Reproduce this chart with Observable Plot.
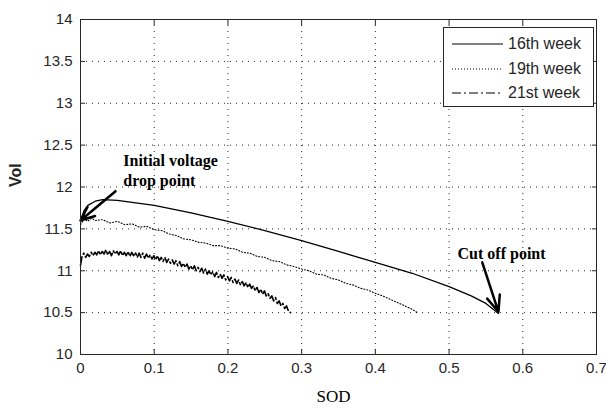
<!DOCTYPE html>
<html><head><meta charset="utf-8">
<script src="https://cdn.jsdelivr.net/npm/d3@7"></script>
<script src="https://cdn.jsdelivr.net/npm/@observablehq/plot@0.6"></script>
<style>
body{margin:0;background:#fff;}
#wrap{position:relative;width:606px;height:408px;}
#legend{position:absolute;left:443px;top:27px;width:149px;height:78px;border:1px solid #262626;background:#fff;font-family:"Liberation Sans",Arial,sans-serif;font-size:16px;color:#262626;z-index:2;}
.row{position:absolute;left:0;height:20px;display:flex;align-items:center;white-space:nowrap;}
.row svg{margin-left:8px;display:block;}
.row span{margin-left:5px;}
</style></head><body>
<div id="wrap"><div id="legend"></div></div>
<script>
// ---- data ----
const xTicks = [0, 0.1, 0.2, 0.3, 0.4, 0.5, 0.6, 0.7];
const yTicks = [10, 10.5, 11, 11.5, 12, 12.5, 13, 13.5, 14];
const seriesNames = ["16th week", "19th week", "21st week"];

const sod16 = [0, 0.005, 0.01, 0.02, 0.03, 0.05, 0.075, 0.1, 0.15, 0.2, 0.25, 0.3, 0.35, 0.4, 0.45, 0.5, 0.53, 0.55, 0.567];
const vol16 = [11.60, 11.72, 11.78, 11.83, 11.85, 11.84, 11.81, 11.78, 11.69, 11.59, 11.48, 11.36, 11.23, 11.10, 10.97, 10.81, 10.70, 10.61, 10.49];

const sod19 = [0, 0.005, 0.01, 0.015, 0.02, 0.03, 0.04, 0.05, 0.06, 0.07, 0.08, 0.09, 0.1, 0.11, 0.12, 0.13, 0.14, 0.15, 0.16, 0.17, 0.18, 0.19, 0.2, 0.21, 0.22, 0.23, 0.24, 0.25, 0.26, 0.27, 0.28, 0.29, 0.3, 0.31, 0.32, 0.33, 0.34, 0.35, 0.36, 0.37, 0.38, 0.39, 0.4, 0.41, 0.42, 0.43, 0.44, 0.45, 0.457];
const vol19 = [11.55, 11.62, 11.59, 11.63, 11.60, 11.61, 11.57, 11.59, 11.55, 11.56, 11.52, 11.53, 11.49, 11.48, 11.44, 11.42, 11.38, 11.37, 11.34, 11.33, 11.30, 11.30, 11.27, 11.26, 11.22, 11.21, 11.17, 11.16, 11.12, 11.11, 11.07, 11.05, 11.02, 11.00, 10.96, 10.95, 10.91, 10.89, 10.85, 10.83, 10.79, 10.77, 10.73, 10.70, 10.66, 10.62, 10.58, 10.54, 10.50];

const sod21 = [0, 0.002, 0.0045, 0.007, 0.0095, 0.012, 0.0145, 0.017, 0.0195, 0.022, 0.0245, 0.027, 0.0295, 0.032, 0.0345, 0.037, 0.0395, 0.042, 0.0445, 0.047, 0.0495, 0.052, 0.0545, 0.057, 0.0595, 0.062, 0.0645, 0.067, 0.0695, 0.072, 0.0745, 0.077, 0.0795, 0.082, 0.0845, 0.087, 0.0895, 0.092, 0.0945, 0.097, 0.0995, 0.102, 0.1045, 0.107, 0.1095, 0.112, 0.1145, 0.117, 0.1195, 0.122, 0.1245, 0.127, 0.1295, 0.132, 0.1345, 0.137, 0.1395, 0.142, 0.1445, 0.147, 0.1495, 0.152, 0.1545, 0.157, 0.1595, 0.162, 0.1645, 0.167, 0.1695, 0.172, 0.1745, 0.177, 0.1795, 0.182, 0.1845, 0.187, 0.1895, 0.192, 0.1945, 0.197, 0.1995, 0.202, 0.2045, 0.207, 0.2095, 0.212, 0.2145, 0.217, 0.2195, 0.222, 0.2245, 0.227, 0.2295, 0.232, 0.2345, 0.237, 0.2395, 0.242, 0.2445, 0.247, 0.2495, 0.252, 0.2545, 0.257, 0.2595, 0.262, 0.2645, 0.267, 0.2695, 0.272, 0.2745, 0.277, 0.2795, 0.282, 0.285];
const vol21 = [11.06, 11.17, 11.21, 11.16, 11.20, 11.17, 11.22, 11.18, 11.22, 11.19, 11.24, 11.19, 11.23, 11.20, 11.25, 11.19, 11.23, 11.18, 11.24, 11.20, 11.23, 11.19, 11.24, 11.18, 11.22, 11.18, 11.23, 11.17, 11.22, 11.18, 11.22, 11.16, 11.21, 11.16, 11.21, 11.15, 11.20, 11.15, 11.19, 11.14, 11.18, 11.13, 11.18, 11.12, 11.16, 11.11, 11.16, 11.10, 11.14, 11.09, 11.13, 11.08, 11.12, 11.06, 11.11, 11.05, 11.09, 11.04, 11.08, 11.02, 11.06, 11.01, 11.06, 11.00, 11.04, 10.99, 11.03, 10.97, 11.02, 10.96, 11.00, 10.95, 10.99, 10.93, 10.98, 10.92, 10.96, 10.91, 10.95, 10.89, 10.93, 10.88, 10.92, 10.86, 10.90, 10.85, 10.89, 10.83, 10.87, 10.82, 10.86, 10.80, 10.84, 10.79, 10.82, 10.76, 10.80, 10.74, 10.78, 10.72, 10.76, 10.70, 10.73, 10.67, 10.70, 10.64, 10.68, 10.61, 10.64, 10.58, 10.61, 10.55, 10.58, 10.52, 10.50];

const noteLabels = ["Initial voltage\ndrop point", "Cut off point"];
const noteSod = [0.058, 0.5115];
const noteVol = [12.42, 11.31];
const arrowFromSod = [0.0475, 0.545];
const arrowFromVol = [11.95, 11.10];
const arrowToSod = [0.0, 0.567];
const arrowToVol = [11.60, 10.51];

// ---- build tables ----
const d16 = sod16.map((s, i) => ({sod: s, vol: vol16[i]}));
const d19 = sod19.map((s, i) => ({sod: s, vol: vol19[i]}));
const d21 = sod21.map((s, i) => ({sod: s, vol: vol21[i]}));
const notes = noteLabels.map((t, i) => ({label: t, sod: noteSod[i], vol: noteVol[i]}));
const arrows = arrowFromSod.map((s, i) => ({x1: s, y1: arrowFromVol[i], x2: arrowToSod[i], y2: arrowToVol[i]}));

const dashes = [null, "1,2", "9,3,2,3"];
const ink = "#262626";
const fmt = d => String(d);

const plot = Plot.plot({
  width: 606, height: 408,
  marginLeft: 80, marginRight: 10, marginTop: 19, marginBottom: 54,
  style: {fontFamily: '"Liberation Sans", Arial, sans-serif', fontSize: "15px", color: ink, background: "#fff", overflow: "visible"},
  x: {domain: [0, 0.7]},
  y: {domain: [10, 14]},
  marks: [
    Plot.gridX(xTicks, {stroke: ink, strokeOpacity: 1, strokeWidth: 1, strokeDasharray: "1,5"}),
    Plot.gridY(yTicks, {stroke: ink, strokeOpacity: 1, strokeWidth: 1, strokeDasharray: "1,5"}),
    Plot.line(d16, {x: "sod", y: "vol", stroke: "#000", strokeWidth: 1.3}),
    Plot.line(d19, {x: "sod", y: "vol", stroke: "#000", strokeWidth: 1.1, strokeDasharray: dashes[1]}),
    Plot.line(d21, {x: "sod", y: "vol", stroke: "#000", strokeWidth: 1.6, strokeDasharray: dashes[2]}),
    Plot.arrow(arrows, {x1: "x1", y1: "y1", x2: "x2", y2: "y2", stroke: "#000", strokeWidth: 2.5, headLength: 12, headAngle: 45}),
    Plot.text(notes, {x: "sod", y: "vol", text: "label", textAnchor: "start", lineAnchor: "top", lineHeight: 1.25, fontFamily: '"Liberation Serif", "Times New Roman", serif', fontWeight: "bold", fontSize: 16, fill: "#000"}),
    Plot.frame({stroke: ink}),
    Plot.axisX(xTicks, {anchor: "bottom", tickSize: -5, tickPadding: 13, tickFormat: fmt, label: null, stroke: ink}),
    Plot.axisX(xTicks, {anchor: "top", tickSize: -5, tickFormat: () => "", label: null, stroke: ink}),
    Plot.axisY(yTicks, {anchor: "left", tickSize: -5, tickPadding: 13, tickFormat: fmt, label: null, stroke: ink}),
    Plot.axisY(yTicks, {anchor: "right", tickSize: -5, tickFormat: () => "", label: null, stroke: ink}),
    Plot.text(["Vol"], {text: d => d, frameAnchor: "left", dx: -65, rotate: -90, fontWeight: "bold", fontSize: 16, fill: ink}),
    Plot.text(["SOD"], {text: d => d, frameAnchor: "bottom", dx: -5, dy: 47, fontFamily: '"Liberation Serif", "Times New Roman", serif', fontSize: 17, fill: "#000"})
  ]
});
document.getElementById("wrap").appendChild(plot);

// ---- legend ----
const legend = document.getElementById("legend");
const rowCenters = [16, 41, 65];
seriesNames.forEach((name, i) => {
  const row = document.createElement("div");
  row.className = "row";
  row.style.top = (rowCenters[i] - 10) + "px";
  const dash = dashes[i] ? `stroke-dasharray="${dashes[i]}"` : "";
  row.innerHTML = `<svg width="51" height="6"><line x1="0" y1="3" x2="51" y2="3" stroke="#000" stroke-width="1.2" ${dash}/></svg><span>${name}</span>`;
  legend.appendChild(row);
});
</script>
</body></html>
